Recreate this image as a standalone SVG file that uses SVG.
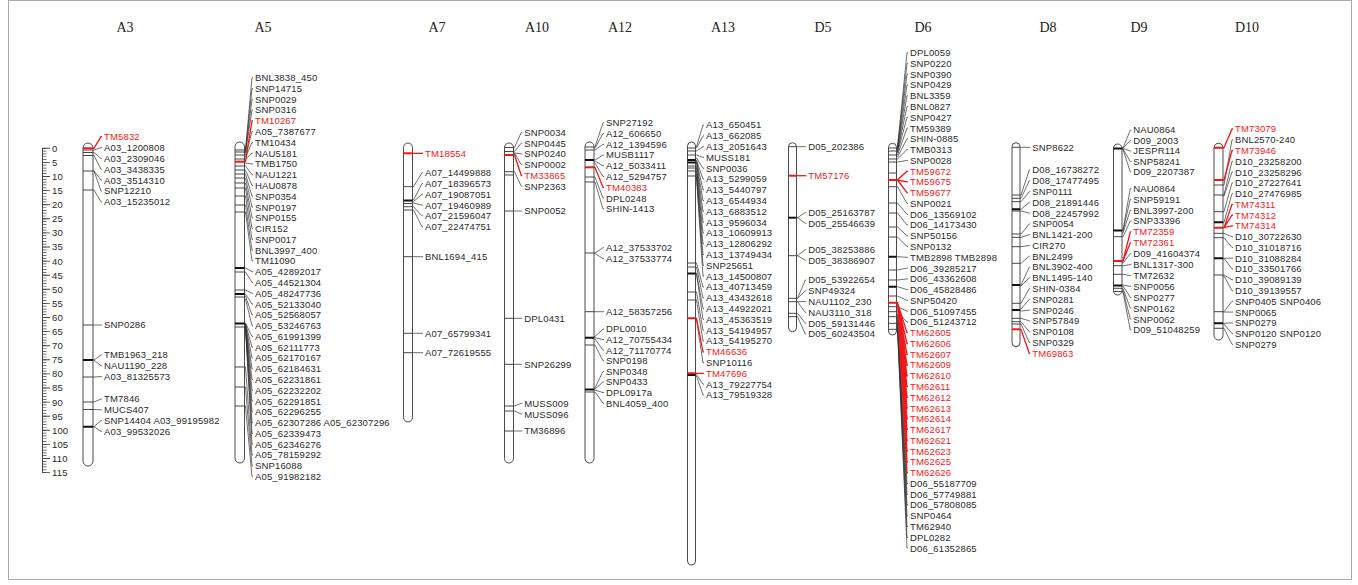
<svg xmlns="http://www.w3.org/2000/svg" width="1358" height="585" viewBox="0 0 1358 585">
<style>
.bar{fill:#fff;stroke:#4a4a4a;stroke-width:1}
.m{stroke:#333;stroke-width:0.9;fill:none}
.mk{stroke:#111;stroke-width:2;fill:none}
.mr{stroke:#f01818;stroke-width:2;fill:none}
.c{fill:none;stroke:#333;stroke-width:0.7}
.cr{fill:none;stroke:#f01818;stroke-width:1.3}
.lab{font-family:"Liberation Sans",Arial,sans-serif;font-size:9.5px;fill:#2a2a2a;letter-spacing:0.15px}
.r{fill:#f32020}
.h{font-family:"Liberation Serif","Times New Roman",serif;font-size:14px;fill:#222;text-anchor:middle}
</style>
<rect x="8.5" y="0.5" width="1343" height="579" fill="#fff" stroke="#aaa" stroke-width="1"/>
<g id="scale">
<line x1="42.5" y1="147.9" x2="42.5" y2="473" stroke="#444" stroke-width="1"/>
<line x1="44.5" y1="147.95" x2="44.5" y2="473" stroke="#444" stroke-width="4" stroke-dasharray="0.7 2.12"/>
<line x1="46.25" y1="147.85" x2="46.25" y2="473" stroke="#444" stroke-width="7.5" stroke-dasharray="0.9 13.2"/>
<g class="lab">
<text x="52" y="151.7">0</text><text x="52" y="165.8">5</text><text x="52" y="179.9">10</text><text x="52" y="194">15</text><text x="52" y="208.1">20</text><text x="52" y="222.2">25</text><text x="52" y="236.3">30</text><text x="52" y="250.4">35</text><text x="52" y="264.5">40</text><text x="52" y="278.6">45</text><text x="52" y="292.7">50</text><text x="52" y="306.8">55</text><text x="52" y="320.9">60</text><text x="52" y="335">65</text><text x="52" y="349.1">70</text><text x="52" y="363.2">75</text><text x="52" y="377.3">80</text><text x="52" y="391.4">85</text><text x="52" y="405.5">90</text><text x="52" y="419.6">95</text><text x="52" y="433.7">100</text><text x="52" y="447.8">105</text><text x="52" y="461.9">110</text><text x="52" y="476">115</text>
</g>
</g>
<g id="connectors">
<path class="c" d="M93 150h1L101 147.6h1M93 152.5h1L101 158.5h1M93 155.5h1L101 169.3h1M93 171h1L101 180.1h1M93 171h1L101 191h1M93 190h1L101 201.9h1M93 325H102M93 360h1L101 355h1M93 360h1L101 365.8h1M93 377h1L101 376.6h1M93 402h1L101 399h1M93 409.5h1L101 409.8h1M93 426.7h1L101 420.6h1M93 426.7h1L101 431.4h1"/>
<path class="cr" d="M93 148.3h1L101 136.7h1"/>
<path class="c" d="M244.5 150h1L252 77.7h1M244.5 151h1L252 88.5h1M244.5 152h1L252 99.3h1M244.5 153h1L252 110h1M244.5 155h1L252 131.6h1M244.5 157h1L252 142.4h1M244.5 159h1L252 153.2h1M244.5 163h1L252 163.9h1M244.5 166h1L252 174.7h1M244.5 170h1L252 185.5h1M244.5 174h1L252 196.3h1M244.5 178h1L252 207.1h1M244.5 183h1L252 217.8h1M244.5 188h1L252 228.6h1M244.5 196h1L252 239.4h1M244.5 205h1L252 250.2h1M244.5 212h1L252 261h1M244.5 268h1L252 271.7h1M244.5 272h1L252 282.5h1M244.5 290h1L252 293.3h1M244.5 294h1L252 304.1h1M244.5 296h1L252 314.9h1M244.5 299h1L252 325.6h1M244.5 323h1L252 336.4h1M244.5 323.5h1L252 347.2h1M244.5 324h1L252 358h1M244.5 324.5h1L252 368.8h1M244.5 325h1L252 379.5h1M244.5 325.5h1L252 390.3h1M244.5 326h1L252 401.1h1M244.5 326.5h1L252 411.9h1M244.5 327h1L252 422.7h1M244.5 327.5h1L252 433.4h1M244.5 328h1L252 444.2h1M244.5 367h1L252 455h1M244.5 387h1L252 465.8h1M244.5 406h1L252 476.6h1"/>
<path class="cr" d="M244.5 161.7h1L252 120.8h1"/>
<path class="c" d="M412.5 186.7h1L422 172.7h1M412.5 200h1L422 183.5h1M412.5 201.5h1L422 194.3h1M412.5 203h1L422 205.1h1M412.5 206.7h1L422 215.9h1M412.5 210h1L422 226.7h1M412.5 256.7H423M412.5 333.3H423M412.5 352.7H423"/>
<path class="cr" d="M412.5 153.3H423"/>
<path class="c" d="M513.5 147.5h1L521.3 132.3h1M513.5 151.5h1L521.3 143.1h1M513.5 153h1L521.3 153.9h1M513.5 153h1L521.3 164.7h1M513.5 171.7h1L521.3 186.3h1M513.5 211H522.3M513.5 318.3H522.3M513.5 364.3H522.3M513.5 406h1L521.3 403.3h1M513.5 411h1L521.3 414.1h1M513.5 431H522.3"/>
<path class="cr" d="M513.5 155h1L521.3 175.5h1"/>
<path class="c" d="M594 147h1L603 122.7h1M594 148h1L603 133.5h1M594 150h1L603 144.3h1M594 160h1L603 155h1M594 161h1L603 165.8h1M594 163h1L603 176.6h1M594 177h1L603 198.2h1M594 182h1L603 209h1M594 253h1L603 247.7h1M594 253.5h1L603 258.5h1M594 311.7H604M594 336.5h1L603 329h1M594 337.7h1L603 339.6h1M594 339h1L603 350.2h1M594 345h1L603 360.8h1M594 388h1L603 371.4h1M594 389h1L603 382h1M594 390h1L603 392.6h1M594 392h1L603 403.2h1"/>
<path class="cr" d="M594 167.3h1L603 187.4h1"/>
<path class="c" d="M695.5 146.5h1L703 125h1M695.5 148h1L703 135.8h1M695.5 151h1L703 146.6h1M695.5 155h1L703 157.4h1M695.5 158h1L703 168.2h1M695.5 160h1L703 179h1M695.5 161h1L703 189.8h1M695.5 162h1L703 200.6h1M695.5 163h1L703 211.4h1M695.5 166h1L703 222.2h1M695.5 168h1L703 233h1M695.5 171h1L703 243.8h1M695.5 174h1L703 254.6h1M695.5 176h1L703 265.4h1M695.5 177h1L703 276.2h1M695.5 263h1L703 287h1M695.5 267h1L703 297.8h1M695.5 273h1L703 308.6h1M695.5 274h1L703 319.4h1M695.5 292h1L703 330.2h1M695.5 300h1L703 341h1M695.5 320h1L703 362.6h1M695.5 374.5h1L703 384.2h1M695.5 376h1L703 395h1"/>
<path class="cr" d="M695.5 318.3h1L703 351.8h1M695.5 373.3h1L703 373.4h1"/>
<path class="c" d="M796.5 146.7H806.3M796.5 217.7h1L805.3 212.5h1M796.5 217.7h1L805.3 223.3h1M796.5 255.7h1L805.3 249.5h1M796.5 255.7h1L805.3 260.3h1M796.5 298.3h1L805.3 280h1M796.5 298.3h1L805.3 290.8h1M796.5 301.7h1L805.3 301.6h1M796.5 301.7h1L805.3 312.4h1M796.5 313.3h1L805.3 323.2h1M796.5 316.7h1L805.3 334h1"/>
<path class="cr" d="M796.5 175.7H806.3"/>
<path class="c" d="M896.5 147h1L907 52.7h1M896.5 148h1L907 63.5h1M896.5 149h1L907 74.2h1M896.5 150h1L907 85h1M896.5 151h1L907 95.8h1M896.5 152h1L907 106.6h1M896.5 153h1L907 117.3h1M896.5 155h1L907 128.1h1M896.5 157h1L907 138.9h1M896.5 159h1L907 149.6h1M896.5 162h1L907 160.4h1M896.5 186.7h1L907 203.5h1M896.5 203h1L907 214.3h1M896.5 213h1L907 225h1M896.5 227h1L907 235.8h1M896.5 237h1L907 246.6h1M896.5 256.7h1L907 257.3h1M896.5 270h1L907 268.1h1M896.5 280h1L907 278.9h1M896.5 286.7h1L907 289.6h1M896.5 296h1L907 300.4h1M896.5 306.7h1L907 311.2h1M896.5 311.7h1L907 322h1M896.5 314h1L907 483.5h1M896.5 316.7h1L907 494.3h1M896.5 320h1L907 505h1M896.5 323.3h1L907 515.8h1M896.5 326h1L907 526.6h1M896.5 328h1L907 537.4h1M896.5 329.3h1L907 548.1h1"/>
<path class="cr" d="M896.5 180h1L907 171.2h1M896.5 180h1L907 181.9h1M896.5 180h1L907 192.7h1M896.5 302.7h1L907 332.7h1M896.5 302.7h1L907 343.5h1M896.5 302.7h1L907 354.3h1M896.5 302.7h1L907 365h1M896.5 302.7h1L907 375.8h1M896.5 302.7h1L907 386.6h1M896.5 302.7h1L907 397.3h1M896.5 302.7h1L907 408.1h1M896.5 302.7h1L907 418.9h1M896.5 302.7h1L907 429.7h1M896.5 302.7h1L907 440.4h1M896.5 302.7h1L907 451.2h1M896.5 302.7h1L907 462h1M896.5 302.7h1L907 472.7h1"/>
<path class="c" d="M1020 147.3H1030.3M1020 195h1L1029.3 170h1M1020 198.3h1L1029.3 180.8h1M1020 201.7h1L1029.3 191.6h1M1020 209.3h1L1029.3 202.3h1M1020 211h1L1029.3 213.1h1M1020 234h1L1029.3 223.9h1M1020 237.3h1L1029.3 234.7h1M1020 246.7h1L1029.3 245.5h1M1020 263.3h1L1029.3 256.2h1M1020 285h1L1029.3 267h1M1020 286h1L1029.3 277.8h1M1020 303.3h1L1029.3 288.6h1M1020 309h1L1029.3 299.4h1M1020 311h1L1029.3 310.1h1M1020 318.3h1L1029.3 320.9h1M1020 321.7h1L1029.3 331.7h1M1020 324h1L1029.3 342.5h1"/>
<path class="cr" d="M1020 329.3h1L1029.3 353.3h1"/>
<path class="c" d="M1122 148h1L1130.3 130h1M1122 148h1L1130.3 140.5h1M1122 148.5h1L1130.3 151h1M1122 149h1L1130.3 161.5h1M1122 149.5h1L1130.3 172h1M1122 230h1L1130.3 188.3h1M1122 231h1L1130.3 199.2h1M1122 233h1L1130.3 210.1h1M1122 236.7h1L1130.3 221h1M1122 263h1L1130.3 253.7h1M1122 265.7h1L1130.3 264.6h1M1122 274.3h1L1130.3 275.5h1M1122 285h1L1130.3 286.4h1M1122 286h1L1130.3 297.3h1M1122 288.3h1L1130.3 308.2h1M1122 290h1L1130.3 319.1h1M1122 292h1L1130.3 330h1"/>
<path class="cr" d="M1122 261h1L1130.3 231.9h1M1122 261h1L1130.3 242.8h1"/>
<path class="c" d="M1223 185h1L1232 139.8h1M1223 195h1L1232 161.3h1M1223 196h1L1232 172.1h1M1223 211.7h1L1232 182.9h1M1223 222.3h1L1232 193.6h1M1223 233.3h1L1232 236.7h1M1223 237.7h1L1232 247.5h1M1223 258.3h1L1232 258.2h1M1223 258.3h1L1232 269h1M1223 275h1L1232 279.8h1M1223 276h1L1232 290.6h1M1223 311.7h1L1232 301.3h1M1223 312h1L1232 312.1h1M1223 323.3h1L1232 322.9h1M1223 324h1L1232 333.6h1M1223 328.3h1L1232 344.4h1"/>
<path class="cr" d="M1223 147.7h1L1232 129h1M1223 180h1L1232 150.5h1M1223 227.7h1L1232 204.4h1M1223 227.7h1L1232 215.2h1M1223 227.7h1L1232 225.9h1"/>
</g>
<g id="A3">
<text class="h" x="125" y="32">A3</text>
<rect class="bar" x="83" y="143" width="10" height="323" rx="5"/>
<path class="m" d="M83 150h10M83 152.5h10M83 155.5h10M83 171h10M83 190h10M83 325h10M83 377h10M83 402h10M83 409.5h10"/>
<path class="mk" d="M83 360h10M83 426.7h10"/>
<path class="mr" d="M83 148.3h10"/>
<g class="lab">
<text class="r" x="104" y="140.1">TM5832</text>
<text x="104" y="151">A03_1200808</text>
<text x="104" y="161.9">A03_2309046</text>
<text x="104" y="172.7">A03_3438335</text>
<text x="104" y="183.5">A03_3514310</text>
<text x="104" y="194.4">SNP12210</text>
<text x="104" y="205.3">A03_15235012</text>
<text x="104" y="328.4">SNP0286</text>
<text x="104" y="358.4">TMB1963_218</text>
<text x="104" y="369.2">NAU1190_228</text>
<text x="104" y="380">A03_81325573</text>
<text x="104" y="402.4">TM7846</text>
<text x="104" y="413.2">MUCS407</text>
<text x="104" y="424">SNP14404 A03_99195982</text>
<text x="104" y="434.8">A03_99532026</text>
</g>
</g>
<g id="A5">
<text class="h" x="263" y="32">A5</text>
<rect class="bar" x="235" y="142" width="9.5" height="321" rx="4.75"/>
<path class="m" d="M235 150h9.5M235 152h9.5M235 155h9.5M235 159h9.5M235 166h9.5M235 170h9.5M235 174h9.5M235 178h9.5M235 183h9.5M235 188h9.5M235 196h9.5M235 205h9.5M235 212h9.5M235 272h9.5M235 290h9.5M235 297h9.5M235 327h9.5M235 367h9.5M235 387h9.5M235 406h9.5"/>
<path class="mk" d="M235 268h9.5M235 294h9.5M235 323.5h9.5"/>
<path class="mr" d="M235 161.7h9.5"/>
<g class="lab">
<text x="255" y="81.1">BNL3838_450</text>
<text x="255" y="91.9">SNP14715</text>
<text x="255" y="102.7">SNP0029</text>
<text x="255" y="113.4">SNP0316</text>
<text class="r" x="255" y="124.2">TM10267</text>
<text x="255" y="135">A05_7387677</text>
<text x="255" y="145.8">TM10434</text>
<text x="255" y="156.6">NAU5181</text>
<text x="255" y="167.3">TMB1750</text>
<text x="255" y="178.1">NAU1221</text>
<text x="255" y="188.9">HAU0878</text>
<text x="255" y="199.7">SNP0354</text>
<text x="255" y="210.5">SNP0197</text>
<text x="255" y="221.2">SNP0155</text>
<text x="255" y="232">CIR152</text>
<text x="255" y="242.8">SNP0017</text>
<text x="255" y="253.6">BNL3997_400</text>
<text x="255" y="264.4">TM11090</text>
<text x="255" y="275.1">A05_42892017</text>
<text x="255" y="285.9">A05_44521304</text>
<text x="255" y="296.7">A05_48247736</text>
<text x="255" y="307.5">A05_52133040</text>
<text x="255" y="318.3">A05_52568057</text>
<text x="255" y="329">A05_53246763</text>
<text x="255" y="339.8">A05_61991399</text>
<text x="255" y="350.6">A05_62111773</text>
<text x="255" y="361.4">A05_62170167</text>
<text x="255" y="372.2">A05_62184631</text>
<text x="255" y="382.9">A05_62231861</text>
<text x="255" y="393.7">A05_62232202</text>
<text x="255" y="404.5">A05_62291851</text>
<text x="255" y="415.3">A05_62296255</text>
<text x="255" y="426.1">A05_62307286 A05_62307296</text>
<text x="255" y="436.8">A05_62339473</text>
<text x="255" y="447.6">A05_62346276</text>
<text x="255" y="458.4">A05_78159292</text>
<text x="255" y="469.2">SNP16088</text>
<text x="255" y="480">A05_91982182</text>
</g>
</g>
<g id="A7">
<text class="h" x="437" y="32">A7</text>
<rect class="bar" x="403.5" y="143" width="9" height="279" rx="4.5"/>
<path class="m" d="M403.5 186.7h9M403.5 203.5h9M403.5 206.7h9M403.5 210h9M403.5 256.7h9M403.5 333.3h9M403.5 352.7h9"/>
<path class="mk" d="M403.5 200.5h9"/>
<path class="mr" d="M403.5 153.3h9"/>
<g class="lab">
<text class="r" x="425" y="156.7">TM18554</text>
<text x="425" y="176.1">A07_14499888</text>
<text x="425" y="186.9">A07_18396573</text>
<text x="425" y="197.7">A07_19087051</text>
<text x="425" y="208.5">A07_19460989</text>
<text x="425" y="219.3">A07_21596047</text>
<text x="425" y="230.1">A07_22474751</text>
<text x="425" y="260.1">BNL1694_415</text>
<text x="425" y="336.7">A07_65799341</text>
<text x="425" y="356.1">A07_72619555</text>
</g>
</g>
<g id="A10">
<text class="h" x="537" y="32">A10</text>
<rect class="bar" x="504.5" y="143" width="9" height="320" rx="4.5"/>
<path class="m" d="M504.5 147.5h9M504.5 151.5h9M504.5 171.7h9M504.5 175h9M504.5 211h9M504.5 318.3h9M504.5 364.3h9M504.5 406h9M504.5 411h9M504.5 431h9"/>
<path class="mr" d="M504.5 155h9"/>
<g class="lab">
<text x="524.3" y="135.7">SNP0034</text>
<text x="524.3" y="146.5">SNP0445</text>
<text x="524.3" y="157.3">SNP0240</text>
<text x="524.3" y="168.1">SNP0002</text>
<text class="r" x="524.3" y="178.9">TM33865</text>
<text x="524.3" y="189.7">SNP2363</text>
<text x="524.3" y="214.4">SNP0052</text>
<text x="524.3" y="321.7">DPL0431</text>
<text x="524.3" y="367.7">SNP26299</text>
<text x="524.3" y="406.7">MUSS009</text>
<text x="524.3" y="417.5">MUSS096</text>
<text x="524.3" y="434.4">TM36896</text>
</g>
</g>
<g id="A12">
<text class="h" x="620" y="32">A12</text>
<rect class="bar" x="585" y="142" width="9" height="321" rx="4.5"/>
<path class="m" d="M585 147h9M585 150h9M585 177h9M585 182h9M585 253h9M585 311.7h9M585 345h9M585 392h9"/>
<path class="mk" d="M585 160h9M585 337.7h9M585 389.5h9"/>
<path class="mr" d="M585 167.3h9"/>
<g class="lab">
<text x="606" y="126.1">SNP27192</text>
<text x="606" y="136.9">A12_606650</text>
<text x="606" y="147.7">A12_1394596</text>
<text x="606" y="158.4">MUSB1117</text>
<text x="606" y="169.2">A12_5033411</text>
<text x="606" y="180">A12_5294757</text>
<text class="r" x="606" y="190.8">TM40383</text>
<text x="606" y="201.6">DPL0248</text>
<text x="606" y="212.4">SHIN-1413</text>
<text x="606" y="251.1">A12_37533702</text>
<text x="606" y="261.9">A12_37533774</text>
<text x="606" y="315.1">A12_58357256</text>
<text x="606" y="332.4">DPL0010</text>
<text x="606" y="343">A12_70755434</text>
<text x="606" y="353.6">A12_71170774</text>
<text x="606" y="364.2">SNP0198</text>
<text x="606" y="374.8">SNP0348</text>
<text x="606" y="385.4">SNP0433</text>
<text x="606" y="396">DPL0917a</text>
<text x="606" y="406.6">BNL4059_400</text>
</g>
</g>
<g id="A13">
<text class="h" x="723" y="32">A13</text>
<rect class="bar" x="687.5" y="142" width="8" height="423" rx="4"/>
<path class="m" d="M687.5 148h8M687.5 151h8M687.5 155h8M687.5 166h8M687.5 168h8M687.5 171h8M687.5 176h8M687.5 263h8M687.5 267h8M687.5 292h8M687.5 300h8"/>
<path class="mk" d="M687.5 160h8M687.5 162.5h8M687.5 273.5h8M687.5 375h8"/>
<path class="mr" d="M687.5 318.3h8M687.5 373.3h8"/>
<g class="lab">
<text x="706" y="128.4">A13_650451</text>
<text x="706" y="139.2">A13_662085</text>
<text x="706" y="150">A13_2051643</text>
<text x="706" y="160.8">MUSS181</text>
<text x="706" y="171.6">SNP0036</text>
<text x="706" y="182.4">A13_5299059</text>
<text x="706" y="193.2">A13_5440797</text>
<text x="706" y="204">A13_6544934</text>
<text x="706" y="214.8">A13_6883512</text>
<text x="706" y="225.6">A13_9596034</text>
<text x="706" y="236.4">A13_10609913</text>
<text x="706" y="247.2">A13_12806292</text>
<text x="706" y="258">A13_13749434</text>
<text x="706" y="268.8">SNP25651</text>
<text x="706" y="279.6">A13_14500807</text>
<text x="706" y="290.4">A13_40713459</text>
<text x="706" y="301.2">A13_43432618</text>
<text x="706" y="312">A13_44922021</text>
<text x="706" y="322.8">A13_45363519</text>
<text x="706" y="333.6">A13_54194957</text>
<text x="706" y="344.4">A13_54195270</text>
<text class="r" x="706" y="355.2">TM46636</text>
<text x="706" y="366">SNP10116</text>
<text class="r" x="706" y="376.8">TM47696</text>
<text x="706" y="387.6">A13_79227754</text>
<text x="706" y="398.4">A13_79519328</text>
</g>
</g>
<g id="D5">
<text class="h" x="823" y="32">D5</text>
<rect class="bar" x="788.5" y="142.7" width="8" height="189" rx="4"/>
<path class="m" d="M788.5 146.7h8M788.5 255.7h8M788.5 298.3h8M788.5 301.7h8M788.5 313.3h8M788.5 316.7h8"/>
<path class="mk" d="M788.5 217.7h8"/>
<path class="mr" d="M788.5 175.7h8"/>
<g class="lab">
<text x="808.3" y="150.1">D05_202386</text>
<text class="r" x="808.3" y="179.1">TM57176</text>
<text x="808.3" y="215.9">D05_25163787</text>
<text x="808.3" y="226.7">D05_25546639</text>
<text x="808.3" y="252.9">D05_38253886</text>
<text x="808.3" y="263.7">D05_38386907</text>
<text x="808.3" y="283.4">D05_53922654</text>
<text x="808.3" y="294.2">SNP49324</text>
<text x="808.3" y="305">NAU1102_230</text>
<text x="808.3" y="315.8">NAU3110_318</text>
<text x="808.3" y="326.6">D05_59131446</text>
<text x="808.3" y="337.4">D05_60243504</text>
</g>
</g>
<g id="D6">
<text class="h" x="923" y="32">D6</text>
<rect class="bar" x="888.5" y="143.3" width="8" height="191.7" rx="4"/>
<path class="m" d="M888.5 148h8M888.5 151h8M888.5 155h8M888.5 159h8M888.5 162h8M888.5 173h8M888.5 186.7h8M888.5 203h8M888.5 213h8M888.5 227h8M888.5 237h8M888.5 270h8M888.5 280h8M888.5 296h8M888.5 306.7h8M888.5 311.7h8M888.5 316.7h8M888.5 323.3h8M888.5 329.3h8"/>
<path class="mk" d="M888.5 256.7h8M888.5 286.7h8"/>
<path class="mr" d="M888.5 180h8M888.5 302.7h8"/>
<g class="lab">
<text x="910" y="56.1">DPL0059</text>
<text x="910" y="66.9">SNP0220</text>
<text x="910" y="77.6">SNP0390</text>
<text x="910" y="88.4">SNP0429</text>
<text x="910" y="99.2">BNL3359</text>
<text x="910" y="110">BNL0827</text>
<text x="910" y="120.7">SNP0427</text>
<text x="910" y="131.5">TM59389</text>
<text x="910" y="142.3">SHIN-0885</text>
<text x="910" y="153">TMB0313</text>
<text x="910" y="163.8">SNP0028</text>
<text class="r" x="910" y="174.6">TM59672</text>
<text class="r" x="910" y="185.3">TM59675</text>
<text class="r" x="910" y="196.1">TM59677</text>
<text x="910" y="206.9">SNP0021</text>
<text x="910" y="217.7">D06_13569102</text>
<text x="910" y="228.4">D06_14173430</text>
<text x="910" y="239.2">SNP50156</text>
<text x="910" y="250">SNP0132</text>
<text x="910" y="260.7">TMB2898 TMB2898</text>
<text x="910" y="271.5">D06_39285217</text>
<text x="910" y="282.3">D06_43362608</text>
<text x="910" y="293">D06_45828486</text>
<text x="910" y="303.8">SNP50420</text>
<text x="910" y="314.6">D06_51097455</text>
<text x="910" y="325.4">D06_51243712</text>
<text class="r" x="910" y="336.1">TM62605</text>
<text class="r" x="910" y="346.9">TM62606</text>
<text class="r" x="910" y="357.7">TM62607</text>
<text class="r" x="910" y="368.4">TM62609</text>
<text class="r" x="910" y="379.2">TM62610</text>
<text class="r" x="910" y="390">TM62611</text>
<text class="r" x="910" y="400.7">TM62612</text>
<text class="r" x="910" y="411.5">TM62613</text>
<text class="r" x="910" y="422.3">TM62614</text>
<text class="r" x="910" y="433.1">TM62617</text>
<text class="r" x="910" y="443.8">TM62621</text>
<text class="r" x="910" y="454.6">TM62623</text>
<text class="r" x="910" y="465.4">TM62625</text>
<text class="r" x="910" y="476.1">TM62626</text>
<text x="910" y="486.9">D06_55187709</text>
<text x="910" y="497.7">D06_57749881</text>
<text x="910" y="508.4">D06_57808085</text>
<text x="910" y="519.2">SNP0464</text>
<text x="910" y="530">TM62940</text>
<text x="910" y="540.8">DPL0282</text>
<text x="910" y="551.5">D06_61352865</text>
</g>
</g>
<g id="D8">
<text class="h" x="1048" y="32">D8</text>
<rect class="bar" x="1012" y="142.7" width="8" height="204" rx="4"/>
<path class="m" d="M1012 147.3h8M1012 195h8M1012 198.3h8M1012 201.7h8M1012 211h8M1012 234h8M1012 237.3h8M1012 246.7h8M1012 263.3h8M1012 303.3h8M1012 318.3h8M1012 321.7h8M1012 324h8"/>
<path class="mk" d="M1012 209.3h8M1012 285h8M1012 310h8"/>
<path class="mr" d="M1012 329.3h8"/>
<g class="lab">
<text x="1032.3" y="150.7">SNP8622</text>
<text x="1032.3" y="173.4">D08_16738272</text>
<text x="1032.3" y="184.2">D08_17477495</text>
<text x="1032.3" y="195">SNP0111</text>
<text x="1032.3" y="205.7">D08_21891446</text>
<text x="1032.3" y="216.5">D08_22457992</text>
<text x="1032.3" y="227.3">SNP0054</text>
<text x="1032.3" y="238.1">BNL1421-200</text>
<text x="1032.3" y="248.9">CIR270</text>
<text x="1032.3" y="259.6">BNL2499</text>
<text x="1032.3" y="270.4">BNL3902-400</text>
<text x="1032.3" y="281.2">BNL1495-140</text>
<text x="1032.3" y="292">SHIN-0384</text>
<text x="1032.3" y="302.8">SNP0281</text>
<text x="1032.3" y="313.5">SNP0246</text>
<text x="1032.3" y="324.3">SNP57849</text>
<text x="1032.3" y="335.1">SNP0108</text>
<text x="1032.3" y="345.9">SNP0329</text>
<text class="r" x="1032.3" y="356.7">TM69863</text>
</g>
</g>
<g id="D9">
<text class="h" x="1139" y="32">D9</text>
<rect class="bar" x="1113.5" y="144" width="8.5" height="151" rx="4.25"/>
<path class="m" d="M1113.5 236.7h8.5M1113.5 265.7h8.5M1113.5 274.3h8.5M1113.5 288.3h8.5M1113.5 291.5h8.5"/>
<path class="mk" d="M1113.5 148.5h8.5M1113.5 230.5h8.5M1113.5 285.5h8.5"/>
<path class="mr" d="M1113.5 261h8.5"/>
<g class="lab">
<text x="1133.3" y="133.4">NAU0864</text>
<text x="1133.3" y="143.9">D09_2003</text>
<text x="1133.3" y="154.4">JESPR114</text>
<text x="1133.3" y="164.9">SNP58241</text>
<text x="1133.3" y="175.4">D09_2207387</text>
<text x="1133.3" y="191.7">NAU0864</text>
<text x="1133.3" y="202.6">SNP59191</text>
<text x="1133.3" y="213.5">BNL3997-200</text>
<text x="1133.3" y="224.4">SNP33396</text>
<text class="r" x="1133.3" y="235.3">TM72359</text>
<text class="r" x="1133.3" y="246.2">TM72361</text>
<text x="1133.3" y="257.1">D09_41604374</text>
<text x="1133.3" y="268">BNL1317-300</text>
<text x="1133.3" y="278.9">TM72632</text>
<text x="1133.3" y="289.8">SNP0056</text>
<text x="1133.3" y="300.7">SNP0277</text>
<text x="1133.3" y="311.6">SNP0162</text>
<text x="1133.3" y="322.5">SNP0062</text>
<text x="1133.3" y="333.4">D09_51048259</text>
</g>
</g>
<g id="D10">
<text class="h" x="1247" y="32">D10</text>
<rect class="bar" x="1214" y="143.3" width="9" height="196.7" rx="4.5"/>
<path class="m" d="M1214 185h9M1214 195h9M1214 211.7h9M1214 233.3h9M1214 237.7h9M1214 275h9M1214 311.7h9M1214 328.3h9"/>
<path class="mk" d="M1214 222.3h9M1214 258.3h9M1214 323.3h9"/>
<path class="mr" d="M1214 147.7h9M1214 180h9M1214 227.7h9"/>
<g class="lab">
<text class="r" x="1235" y="132.4">TM73079</text>
<text x="1235" y="143.2">BNL2570-240</text>
<text class="r" x="1235" y="153.9">TM73946</text>
<text x="1235" y="164.7">D10_23258200</text>
<text x="1235" y="175.5">D10_23258296</text>
<text x="1235" y="186.3">D10_27227641</text>
<text x="1235" y="197">D10_27476985</text>
<text class="r" x="1235" y="207.8">TM74311</text>
<text class="r" x="1235" y="218.6">TM74312</text>
<text class="r" x="1235" y="229.3">TM74314</text>
<text x="1235" y="240.1">D10_30722630</text>
<text x="1235" y="250.9">D10_31018716</text>
<text x="1235" y="261.6">D10_31088284</text>
<text x="1235" y="272.4">D10_33501766</text>
<text x="1235" y="283.2">D10_39089139</text>
<text x="1235" y="294">D10_39139557</text>
<text x="1235" y="304.7">SNP0405 SNP0406</text>
<text x="1235" y="315.5">SNP0065</text>
<text x="1235" y="326.3">SNP0279</text>
<text x="1235" y="337">SNP0120 SNP0120</text>
<text x="1235" y="347.8">SNP0279</text>
</g>
</g>
</svg>
